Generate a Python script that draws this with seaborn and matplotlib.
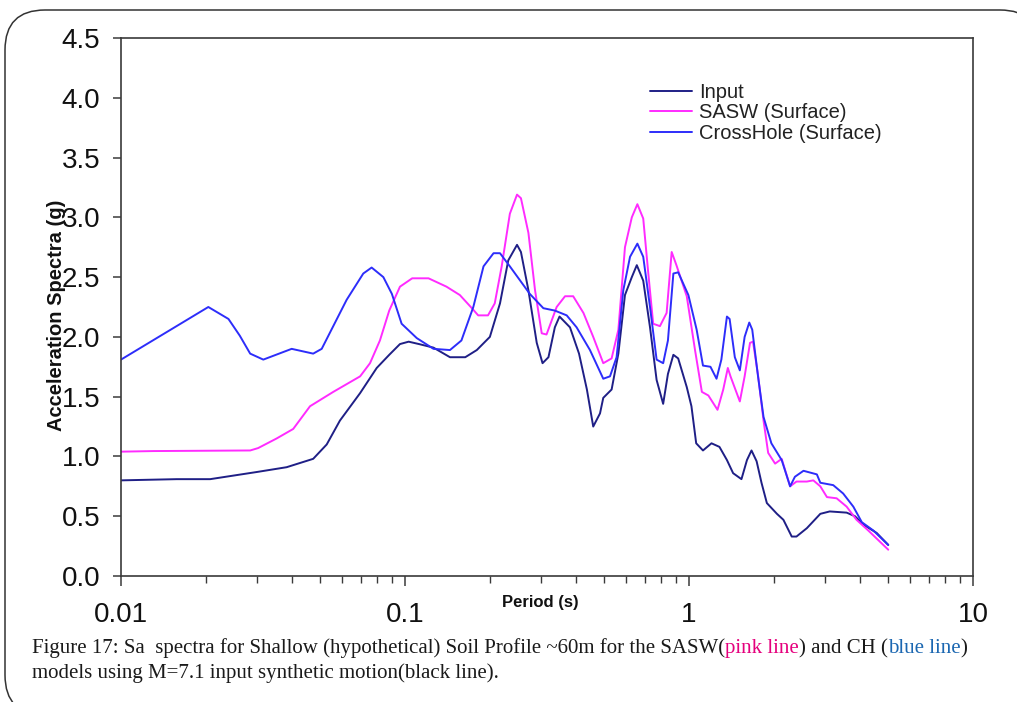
import numpy as np
import pandas as pd
import matplotlib
matplotlib.use("Agg")
import matplotlib.pyplot as plt
import matplotlib.transforms as mtransforms
from matplotlib.patches import FancyBboxPatch
from matplotlib.ticker import FixedLocator, LogLocator, NullFormatter
import seaborn as sns

# Spectral acceleration (g) versus period (s)
input_period = [0.010, 0.0157, 0.0206, 0.0249, 0.0301, 0.0383, 0.0475, 0.0530, 0.0590, 0.0695,
                0.0795, 0.088, 0.096, 0.103, 0.112, 0.126, 0.144, 0.163, 0.179, 0.199,
                0.216, 0.231, 0.248, 0.256, 0.272, 0.291, 0.305, 0.320, 0.337, 0.350,
                0.381, 0.410, 0.437, 0.460, 0.486, 0.499, 0.534, 0.564, 0.595, 0.629,
                0.655, 0.690, 0.729, 0.769, 0.811, 0.843, 0.881, 0.916, 0.982, 1.02,
                1.06, 1.12, 1.20, 1.28, 1.36, 1.43, 1.53, 1.60, 1.66, 1.73,
                1.80, 1.88, 2.04, 2.15, 2.30, 2.39, 2.60, 2.90, 3.13, 3.59,
                3.84, 4.11, 4.58, 5.03]
input_sa = [0.80, 0.81, 0.81, 0.84, 0.87, 0.91, 0.98, 1.10, 1.30, 1.53,
            1.74, 1.85, 1.94, 1.96, 1.94, 1.91, 1.83, 1.83, 1.89, 2.00,
            2.28, 2.64, 2.77, 2.71, 2.39, 1.95, 1.78, 1.83, 2.08, 2.17,
            2.08, 1.86, 1.56, 1.25, 1.36, 1.49, 1.56, 1.86, 2.35, 2.50,
            2.60, 2.47, 2.08, 1.64, 1.44, 1.69, 1.85, 1.82, 1.58, 1.42,
            1.11, 1.05, 1.11, 1.08, 0.97, 0.86, 0.81, 0.97, 1.05, 0.96,
            0.78, 0.61, 0.52, 0.47, 0.33, 0.33, 0.40, 0.52, 0.54, 0.53,
            0.50, 0.43, 0.36, 0.26]

sasw_period = [0.010, 0.0130, 0.0285, 0.0304, 0.0353, 0.0404, 0.0463, 0.0559, 0.0695, 0.0753,
               0.0816, 0.088, 0.096, 0.106, 0.121, 0.140, 0.156, 0.172, 0.181, 0.196,
               0.207, 0.219, 0.234, 0.248, 0.256, 0.272, 0.287, 0.303, 0.315, 0.342,
               0.366, 0.391, 0.425, 0.460, 0.499, 0.534, 0.564, 0.595, 0.629, 0.658,
               0.690, 0.719, 0.748, 0.790, 0.834, 0.869, 0.903, 0.982, 1.05, 1.11,
               1.17, 1.26, 1.32, 1.37, 1.40, 1.51, 1.57, 1.64, 1.68, 1.75,
               1.83, 1.90, 2.01, 2.12, 2.27, 2.39, 2.60, 2.74, 2.90, 3.06,
               3.31, 3.59, 3.89, 4.28, 5.03]
sasw_sa = [1.04, 1.045, 1.05, 1.07, 1.15, 1.23, 1.42, 1.54, 1.67, 1.78,
           1.97, 2.22, 2.42, 2.49, 2.49, 2.42, 2.35, 2.24, 2.18, 2.18,
           2.28, 2.59, 3.03, 3.19, 3.16, 2.87, 2.39, 2.03, 2.02, 2.25,
           2.34, 2.34, 2.20, 2.00, 1.78, 1.82, 2.06, 2.75, 3.00, 3.11,
           2.99, 2.53, 2.11, 2.09, 2.20, 2.71, 2.60, 2.34, 1.89, 1.54,
           1.51, 1.39, 1.56, 1.74, 1.67, 1.46, 1.67, 1.95, 1.96, 1.68,
           1.30, 1.03, 0.94, 0.98, 0.75, 0.79, 0.79, 0.80, 0.75, 0.66,
           0.65, 0.58, 0.47, 0.38, 0.22]

ch_period = [0.010, 0.0203, 0.0239, 0.0262, 0.0285, 0.0317, 0.0399, 0.0475, 0.0509, 0.0623,
             0.0713, 0.0763, 0.0839, 0.0899, 0.0973, 0.110, 0.126, 0.144, 0.158, 0.174,
             0.189, 0.205, 0.216, 0.234, 0.275, 0.307, 0.337, 0.371, 0.402, 0.448,
             0.499, 0.527, 0.556, 0.587, 0.620, 0.658, 0.690, 0.729, 0.769, 0.811,
             0.843, 0.881, 0.916, 0.995, 1.064, 1.12, 1.19, 1.25, 1.30, 1.36,
             1.39, 1.45, 1.51, 1.57, 1.63, 1.67, 1.75, 1.83, 1.95, 2.12,
             2.27, 2.36, 2.53, 2.82, 2.90, 3.22, 3.49, 3.79, 4.06, 4.46,
             5.03]
ch_sa = [1.81, 2.25, 2.15, 2.01, 1.86, 1.81, 1.90, 1.86, 1.90, 2.31,
         2.53, 2.58, 2.50, 2.36, 2.11, 1.99, 1.90, 1.89, 1.97, 2.25,
         2.59, 2.70, 2.70, 2.59, 2.36, 2.24, 2.22, 2.18, 2.08, 1.89,
         1.65, 1.67, 1.83, 2.39, 2.67, 2.78, 2.67, 2.25, 1.81, 1.78,
         1.97, 2.53, 2.54, 2.35, 2.06, 1.76, 1.75, 1.65, 1.81, 2.17,
         2.15, 1.83, 1.72, 2.00, 2.12, 2.06, 1.67, 1.33, 1.11, 0.97,
         0.75, 0.83, 0.88, 0.85, 0.78, 0.76, 0.69, 0.58, 0.45, 0.38,
         0.26]

series_names = ["Input", "SASW (Surface)", "CrossHole (Surface)"]
series_colors = ["#1f1f86", "#ff2bff", "#2d2dfa"]
y_ticks = [0.0, 0.5, 1.0, 1.5, 2.0, 2.5, 3.0, 3.5, 4.0, 4.5]
x_ticks = [0.01, 0.1, 1, 10]
x_tick_labels = ["0.01", "0.1", "1", "10"]

df = pd.concat([
    pd.DataFrame({"period": input_period, "sa": input_sa, "series": series_names[0]}),
    pd.DataFrame({"period": sasw_period, "sa": sasw_sa, "series": series_names[1]}),
    pd.DataFrame({"period": ch_period, "sa": ch_sa, "series": series_names[2]}),
], ignore_index=True)

sns.set_style("ticks")
plt.rcParams["font.family"] = ["Liberation Sans", "DejaVu Sans"]

W, H = 1017, 702
fig = plt.figure(figsize=(W / 100, H / 100), dpi=100)
fig.patch.set_facecolor("white")

# rounded frame around the figure panel (filled so its outline is not cut at the canvas edge)
frame = FancyBboxPatch((5, -13), 1035, 705,
                       boxstyle="round,pad=0,rounding_size=40",
                       transform=mtransforms.IdentityTransform(),
                       facecolor="white", edgecolor="#333333", linewidth=1.1,
                       zorder=-5)
fig.patches.append(frame)

L, R, T, B = 121, 973, 38, 576
ax = fig.add_axes([L / W, 1 - B / H, (R - L) / W, (B - T) / H])

sns.lineplot(data=df, x="period", y="sa", hue="series", hue_order=series_names,
             palette=dict(zip(series_names, series_colors)), estimator=None,
             sort=True, linewidth=1.4, ax=ax)

ax.set_xscale("log")
ax.set_xlim(0.01, 10)
ax.set_ylim(0, 4.5)
ax.set_yticks(y_ticks)
ax.set_yticklabels([f"{v:.1f}" for v in y_ticks])
ax.xaxis.set_major_locator(FixedLocator(x_ticks))
ax.set_xticklabels(x_tick_labels)
ax.xaxis.set_minor_locator(LogLocator(base=10, subs=np.arange(2, 10)))
ax.xaxis.set_minor_formatter(NullFormatter())
ax.set_xlabel("")
ax.set_ylabel("")

for s in ax.spines.values():
    s.set_visible(True)
    s.set_color("#3a3a3a")
    s.set_linewidth(1.2)

ax.tick_params(axis="x", which="major", direction="out", length=7, width=1.1,
               colors="#3a3a3a", labelcolor="#111111", labelsize=20, pad=12)
ax.tick_params(axis="x", which="minor", direction="out", length=5, width=1.0,
               colors="#3a3a3a")
ax.tick_params(axis="y", direction="out", length=6, width=1.1,
               colors="#3a3a3a", labelcolor="#111111", labelsize=20, pad=9)

fig.text(540 / W, 1 - 603 / H, "Period (s)", ha="center", va="center",
         fontsize=12, fontweight="bold", color="#111111")
fig.text(57 / W, 1 - 315 / H, "Acceleration Spectra (g)", ha="center", va="center",
         rotation=90, fontsize=14.5, fontweight="bold", color="#111111")

handles, labels = ax.get_legend_handles_labels()
ax.legend(handles, labels, loc="upper left",
          bbox_to_anchor=(650 / W, 1 - 83 / H), bbox_transform=fig.transFigure,
          frameon=False, borderpad=0, borderaxespad=0, handlelength=2.1,
          handletextpad=0.35, labelspacing=0.07,
          prop={"family": "Liberation Sans", "size": 14.5}, labelcolor="#222222")

# figure caption with coloured keywords
serif = ["Liberation Serif", "DejaVu Serif"]
caption_lines = [
    [("Figure 17: Sa  spectra for Shallow (hypothetical) Soil Profile ~60m for the SASW(", "#1a1a1a"),
     ("pink line", "#e5007d"),
     (") and CH (", "#1a1a1a"),
     ("blue line", "#1b67b1"),
     (")", "#1a1a1a")],
    [("models using M=7.1 input synthetic motion(black line).", "#1a1a1a")],
]
baselines = [653, 678]
fig.canvas.draw()
renderer = fig.canvas.get_renderer()
for segs, base in zip(caption_lines, baselines):
    x = 32
    for txt, col in segs:
        t = fig.text(x / W, 1 - base / H, txt, ha="left", va="baseline",
                     family=serif, fontsize=15, color=col)
        x += t.get_window_extent(renderer=renderer).width

fig.savefig("out.png", dpi=100, facecolor="white")
